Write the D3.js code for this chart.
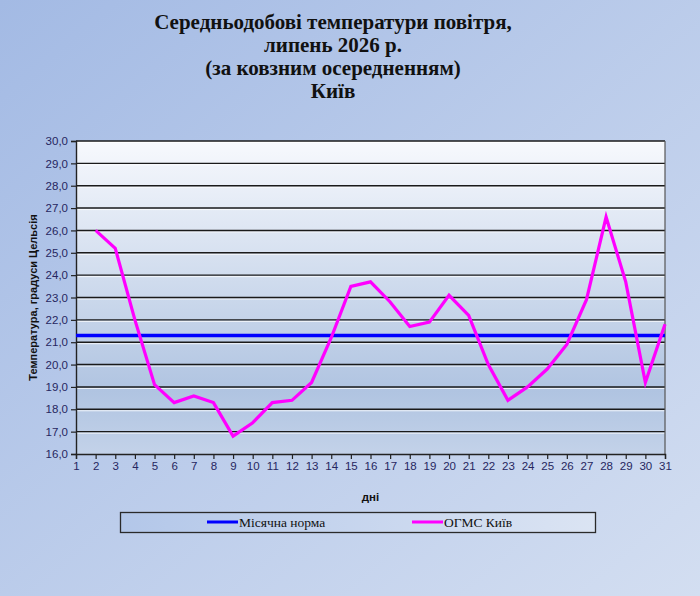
<!DOCTYPE html>
<html>
<head>
<meta charset="utf-8">
<script src="https://cdnjs.cloudflare.com/ajax/libs/d3/7.8.5/d3.min.js"></script>
<style>
  html, body { margin: 0; padding: 0; }
  svg { display: block; }
</style>
</head>
<body>
<svg id="chart" width="700" height="596"></svg>
<script type="text/javascript">

var titleLines = ["Середньодобові температури повітря,", "липень 2026 р.", "(за ковзним осередненням)", "Київ"];
var days = d3.range(1, 32);
var stationDays = [2, 3, 4, 5, 6, 7, 8, 9, 10, 11, 12, 13, 14, 15, 16, 17, 18, 19, 20, 21, 22, 23, 24, 25, 26, 27, 28, 29, 30, 31];
var stationTemps = [26.0, 25.2, 22.0, 19.1, 18.3, 18.6, 18.3, 16.8, 17.4, 18.3, 18.4, 19.2, 21.2, 23.5, 23.7, 22.8, 21.7, 21.9, 23.1, 22.2, 20.0, 18.4, 19.0, 19.8, 20.9, 22.9, 26.6, 23.7, 19.2, 21.8];
var monthNorm = 21.3;
var yTicks = d3.range(16, 30.001, 1);
var seriesNames = ["Місячна норма", "ОГМС Київ"];

var svg = d3.select("#chart");
var W = 700, H = 596;
var plot = { left: 76, top: 141, right: 665, bottom: 454 };

var defs = svg.append("defs");

// page background
var bg = defs.append("linearGradient").attr("id", "bg")
    .attr("x1", "0").attr("y1", "0").attr("x2", "1").attr("y2", "1");
bg.append("stop").attr("offset", "0%").attr("stop-color", "#a3bae4");
bg.append("stop").attr("offset", "100%").attr("stop-color", "#d3def1");

// plot background
var pg = defs.append("linearGradient").attr("id", "pg")
    .attr("x1", "0").attr("y1", "0").attr("x2", "0").attr("y2", "1");
pg.append("stop").attr("offset", "0%").attr("stop-color", "#f7f9fd");
pg.append("stop").attr("offset", "80%").attr("stop-color", "#b0c4e1");
pg.append("stop").attr("offset", "100%").attr("stop-color", "#c3d2e9");

// legend background
var lg = defs.append("linearGradient").attr("id", "lg")
    .attr("x1", "0").attr("y1", "0").attr("x2", "1").attr("y2", "0");
lg.append("stop").attr("offset", "0%").attr("stop-color", "#b3c7e9");
lg.append("stop").attr("offset", "100%").attr("stop-color", "#dbe4f3");

svg.append("rect").attr("width", W).attr("height", H).attr("fill", "url(#bg)");

// title
svg.append("g").selectAll("text").data(titleLines).enter().append("text")
    .attr("x", 333)
    .attr("y", function(d, i) { return 29 + i * 23; })
    .attr("text-anchor", "middle")
    .attr("font-family", "'Liberation Serif', 'Times New Roman', serif")
    .attr("font-weight", "bold")
    .attr("font-size", 21)
    .attr("fill", "#111")
    .text(function(d) { return d; });

var x = d3.scaleLinear().domain([1, 31]).range([plot.left, plot.right]);
var y = d3.scaleLinear().domain([16, 30]).range([plot.bottom, plot.top]);

svg.append("rect")
    .attr("x", plot.left).attr("y", plot.top)
    .attr("width", plot.right - plot.left).attr("height", plot.bottom - plot.top)
    .attr("fill", "url(#pg)");

// gridlines with a light shadow under each
var grid = svg.append("g");
grid.selectAll("line.hl").data(yTicks.slice(1)).enter().append("line")
    .attr("x1", plot.left).attr("x2", plot.right)
    .attr("y1", function(d) { return y(d) + 1.5; }).attr("y2", function(d) { return y(d) + 1.5; })
    .attr("stroke", "#ffffff").attr("stroke-opacity", 0.8).attr("stroke-width", 1);
grid.selectAll("line.gl").data(yTicks.slice(1)).enter().append("line")
    .attr("x1", plot.left).attr("x2", plot.right)
    .attr("y1", function(d) { return y(d); }).attr("y2", function(d) { return y(d); })
    .attr("stroke", "#1a1a1a").attr("stroke-width", 1.4);

// right border
svg.append("line")
    .attr("x1", plot.right).attr("x2", plot.right)
    .attr("y1", plot.top).attr("y2", plot.bottom)
    .attr("stroke", "#555").attr("stroke-width", 1.2);

// axes
var fmt = function(d) { return d3.format(".1f")(d).replace(".", ","); };
var yAxis = svg.append("g")
    .attr("transform", "translate(" + plot.left + ",0)")
    .call(d3.axisLeft(y).tickValues(yTicks).tickFormat(fmt).tickSize(5).tickPadding(3));
var xAxis = svg.append("g")
    .attr("transform", "translate(0," + plot.bottom + ")")
    .call(d3.axisBottom(x).tickValues(days).tickFormat(d3.format("d")).tickSize(5).tickPadding(3));

[yAxis, xAxis].forEach(function(a) {
  a.select(".domain").attr("stroke", "#222").attr("stroke-width", 1.4);
  a.selectAll(".tick line").attr("stroke", "#222").attr("stroke-width", 1.2);
  a.selectAll(".tick text")
    .attr("font-family", "'Liberation Sans', Arial, sans-serif")
    .attr("font-size", 11.5)
    .attr("fill", "#262660");
});

// axis titles
svg.append("text")
    .attr("transform", "translate(37," + ((plot.top + plot.bottom) / 2) + ") rotate(-90)")
    .attr("text-anchor", "middle")
    .attr("font-family", "'Liberation Sans', Arial, sans-serif")
    .attr("font-weight", "bold")
    .attr("font-size", 11)
    .attr("fill", "#111")
    .text("Температура, градуси Цельсія");

svg.append("text")
    .attr("x", (plot.left + plot.right) / 2).attr("y", 501)
    .attr("text-anchor", "middle")
    .attr("font-family", "'Liberation Sans', Arial, sans-serif")
    .attr("font-weight", "bold")
    .attr("font-size", 11.5)
    .attr("fill", "#111")
    .text("дні");

// norm line
svg.append("line")
    .attr("x1", plot.left).attr("x2", plot.right)
    .attr("y1", y(monthNorm)).attr("y2", y(monthNorm))
    .attr("stroke", "#0000ff").attr("stroke-width", 3.5);

// station series
var line = d3.line()
    .x(function(d, i) { return x(stationDays[i]); })
    .y(function(d) { return y(d); });
svg.append("path")
    .datum(stationTemps)
    .attr("d", line)
    .attr("fill", "none")
    .attr("stroke", "#ff00ff")
    .attr("stroke-width", 3.2)
    .attr("stroke-linejoin", "miter");

// legend
svg.append("rect")
    .attr("x", 120.5).attr("y", 512.5).attr("width", 475).attr("height", 20)
    .attr("fill", "url(#lg)").attr("stroke", "#2a2a2a").attr("stroke-width", 1.3);

var legendColors = ["#0000ff", "#ff00ff"];
var legendX = [207, 412];
var items = svg.append("g").selectAll("g").data(seriesNames).enter().append("g")
    .attr("transform", function(d, i) { return "translate(" + legendX[i] + ",522)"; });
items.append("line")
    .attr("x1", 0).attr("x2", 31).attr("y1", 0).attr("y2", 0)
    .attr("stroke", function(d, i) { return legendColors[i]; })
    .attr("stroke-width", 3);
items.append("text")
    .attr("x", 32).attr("y", 4.5)
    .attr("font-family", "'Liberation Serif', 'Times New Roman', serif")
    .attr("font-size", 13.5)
    .attr("fill", "#111")
    .text(function(d) { return d; });

</script>
</body>
</html>
